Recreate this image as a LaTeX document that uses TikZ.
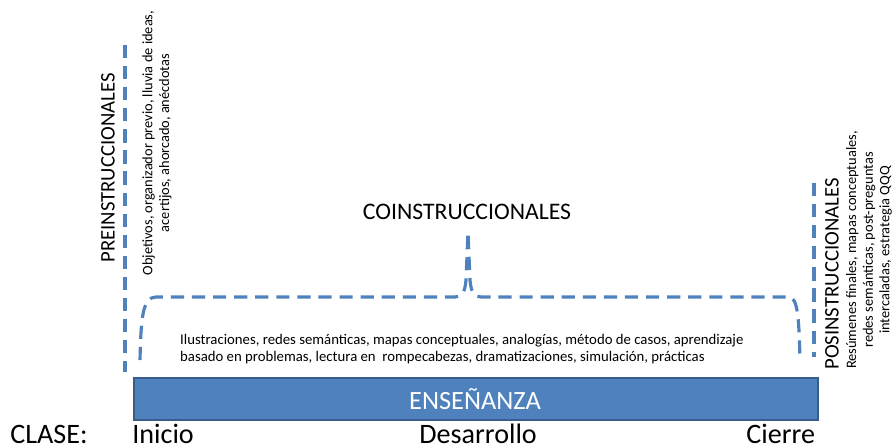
\documentclass[tikz,border=0pt]{standalone}
\usepackage{fontspec}
\setmainfont{Carlito}
\usetikzlibrary{positioning}

\definecolor{azul}{HTML}{4F81BD}
\definecolor{azulborde}{HTML}{385D8A}

\tikzset{
  guia/.style={draw=azul, line width=1.8pt, dash pattern=on 7.5pt off 4.5pt},
  titulo/.style={font=\fontsize{11.8}{14}\selectfont, rotate=90},
  nota/.style={font=\fontsize{8.2}{9.5}\selectfont, rotate=90, align=center},
  clase/.style={font=\fontsize{16}{19}\selectfont, anchor=base west, inner sep=0pt},
}

\begin{document}
\begin{tikzpicture}[x=0.02cm, y=-0.02cm]

\useasboundingbox (0,0) rectangle (893,448);

% lineas de las fases
\draw[guia] (125,45) -- (125,372);
\draw[guia] (814,183) -- (814,357);
\draw[guia] (140,360) .. controls (141,320) and (142,297) .. (156,297)
  -- (455,297) .. controls (462,297) and (465,292) .. (466,280)
  -- (468,232) -- (470,280) .. controls (471,292) and (474,297) .. (481,297)
  -- (789,297) .. controls (798,297) and (799,320) .. (800,360);

% barra de ensenanza
\draw[fill=azul, draw=azulborde, line width=1.2pt] (134,378) rectangle (818,420);
\node[text=white, font=\fontsize{15}{18}\selectfont] (ensenanza) at (475,399) {ENSEÑANZA};

\node[titulo] (pre) at (108,168) {PREINSTRUCCIONALES};
\node[nota] (prenota) at (157,143) {Objetivos, organizador previo, lluvia de ideas,\\ acertijos, ahorcado, anécdotas};

\node[font=\fontsize{13.5}{16}\selectfont] (co) at (467,212) {COINSTRUCCIONALES};
\node[font=\fontsize{8.4}{10}\selectfont, align=left, anchor=west] (conota) at (174,349)
  {Ilustraciones, redes semánticas, mapas conceptuales, analogías, método de casos, aprendizaje\\
   basado en problemas, lectura en \ rompecabezas, dramatizaciones, simulación, prácticas};

\node[titulo] (pos) at (832,274) {POSINSTRUCCIONALES};
\node[nota] (posnota) at (869,250) {Resúmenes finales, mapas conceptuales,\\ redes semánticas, post-preguntas\\ intercaladas, estrategia QQQ};

% momentos de la clase
\node[clase] (clase) at (10,444) {CLASE:};
\node[clase] (inicio) at (132,444) {Inicio};
\node[clase] (desarrollo) at (419,444) {Desarrollo};
\node[clase] (cierre) at (746,444) {Cierre};

\end{tikzpicture}
\end{document}
